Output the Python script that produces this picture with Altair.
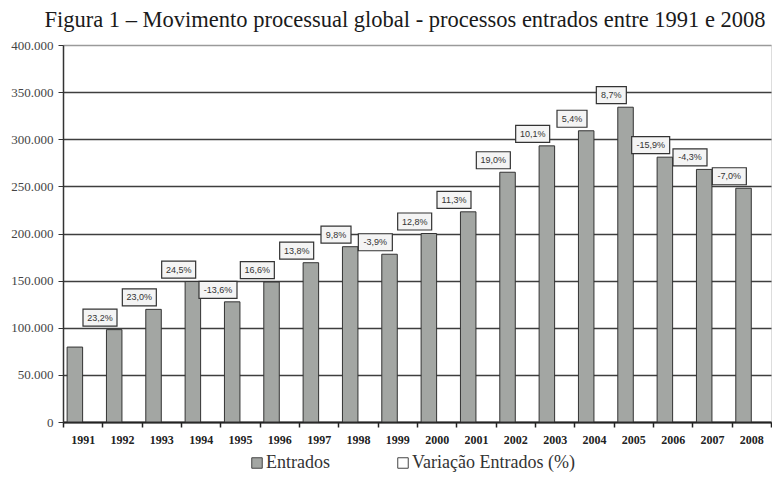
import altair as alt
import pandas as pd

years = [str(y) for y in range(1991, 2009)]
entrados = [79500, 98000, 119500, 149000, 127500, 148500, 169000, 186000, 178000,
            200000, 223000, 265000, 293000, 309000, 334000, 281000, 268000, 248000]
# variation labelled on the year reached (1992..2008)
variacao = [23.2, 23.0, 24.5, -13.6, 16.6, 13.8, 9.8, -3.9, 12.8, 11.3, 19.0,
            10.1, 5.4, 8.7, -15.9, -4.3, -7.0]

series_names = ["Entrados", "Variação Entrados (%)"]

bars = pd.DataFrame({"year": years, "value": entrados, "series": series_names[0]})

lab_rows = []
for i, v in enumerate(variacao):
    txt = f"{v:.1f}".replace(".", ",") + "%"
    w = 4 * len(txt) + 14
    h = 17
    sx = w / 40
    sy = h / 40
    path = f"M{-sx:.3f},{-sy:.3f}L{sx:.3f},{-sy:.3f}L{sx:.3f},{sy:.3f}L{-sx:.3f},{sy:.3f}Z"
    lab_rows.append({"year": years[i + 1], "value": entrados[i + 1], "label": txt, "shape": path})
labels = pd.DataFrame(lab_rows)

SERIF = "Liberation Serif"
SANS = "Liberation Sans"

x_enc = alt.X("year:N", title=None, sort=years,
              scale=alt.Scale(paddingInner=0, paddingOuter=0),
              axis=alt.Axis(labelFont=SERIF, labelFontSize=12, labelFontWeight="bold",
                            labelColor="#222", labelAngle=0, labelPadding=7,
                            domainColor="#222", domainWidth=2,
                            tickColor="#222", tickWidth=1.5, tickSize=5,
                            tickBand="extent", grid=False))
y_enc = alt.Y("value:Q", title=None,
              scale=alt.Scale(domain=[0, 400000], nice=False),
              axis=alt.Axis(values=list(range(0, 400001, 50000)),
                            labelExpr="replace(format(datum.value, ',d'), ',', '.')",
                            labelFont=SERIF, labelFontSize=13, labelColor="#444",
                            labelPadding=5, tickSize=5, tickColor="#333",
                            domainColor="#333", domainWidth=1.5,
                            grid=True,
                            gridColor={"condition": {"test": "datum.value === 400000", "value": "#9a9a9a"},
                                       "value": "#3e3e3e"},
                            gridWidth=1.3))

bar_layer = alt.Chart(bars).mark_bar(width=15.5, xOffset=-7.8, stroke="#333",
                                     strokeWidth=1).encode(
    x=x_enc,
    y=y_enc,
    fill=alt.Fill("series:N",
                  scale=alt.Scale(domain=series_names, range=["#a3a6a3", "#ffffff"]),
                  legend=alt.Legend(title=None, orient="none", direction="horizontal",
                                    legendX=185, legendY=409,
                                    symbolType="square", symbolSize=110,
                                    symbolStrokeColor="#444", symbolStrokeWidth=1,
                                    labelFont=SERIF, labelFontSize=18, labelColor="#333",
                                    columnPadding=64, labelOffset=0,
                                    labelLimit=400)),
)

box_layer = alt.Chart(labels).mark_point(size=1600, fill="#f4f4f4", stroke="#333",
                                         strokeWidth=1.2, opacity=1, fillOpacity=1,
                                         xOffset=-22, yOffset=-12).encode(
    x=alt.X("year:N", sort=years),
    y=alt.Y("value:Q"),
    shape=alt.Shape("shape:N", scale=None),
)

text_layer = alt.Chart(labels).mark_text(font=SANS, fontSize=9, color="#333",
                                         xOffset=-22, yOffset=-12,
                                         baseline="middle", align="center").encode(
    x=alt.X("year:N", sort=years),
    y=alt.Y("value:Q"),
    text="label:N",
)

chart = alt.layer(bar_layer, box_layer, text_layer).properties(
    width=708, height=377,
    padding={"left": 2, "right": 0, "top": 0, "bottom": 1},
    title=alt.TitleParams("Figura 1 – Movimento processual global - processos entrados entre 1991 e 2008",
                          font=SERIF, fontSize=22.5, fontWeight="normal", color="#1a1a1a",
                          anchor="middle", offset=8, dx=-12),
).configure_view(stroke=None).configure(background="white", font=SERIF).configure_axis(
    labelFont=SERIF
).configure_legend(labelFont=SERIF)

chart.save("out.html", embed_options={"renderer": "svg", "actions": False})
